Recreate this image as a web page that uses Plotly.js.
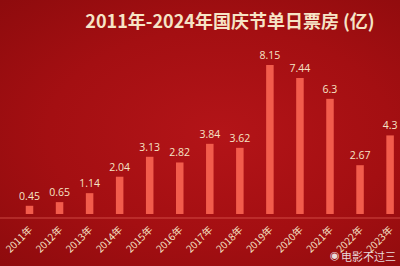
<!DOCTYPE html>
<html><head><meta charset="utf-8">
<script src="https://cdn.plot.ly/plotly-3.0.1.min.js"></script>
<style>
html,body{margin:0;padding:0;}
#wrap{width:400px;height:266px;background:radial-gradient(ellipse at 55% 50%, #b31418 0%, #a40f12 55%, #8e0b0d 100%);}
#chart{width:400px;height:266px;}
</style></head>
<body><div id="wrap"><div id="chart"></div></div>
<script>
const years = ["2011年","2012年","2013年","2014年","2015年","2016年","2017年","2018年","2019年","2020年","2021年","2022年","2023年","2024年"];
const boxOffice = [0.45, 0.65, 1.14, 2.04, 3.13, 2.82, 3.84, 3.62, 8.15, 7.44, 6.3, 2.67, 4.3, 4.5];
const labels = ["0.45","0.65","1.14","2.04","3.13","2.82","3.84","3.62","8.15","7.44","6.3","2.67","4.3","4.5"];
const cream = "#f6e4c6";
const data = [{
  type: "bar",
  x: years.map((_, i) => i),
  y: boxOffice,
  text: labels,
  textposition: "outside",
  constraintext: "none",
  textfont: {family: "Open Sans, Noto Sans, sans-serif", size: 10.5, color: cream},
  cliponaxis: false,
  width: 0.25,
  marker: {color: "#f25c4c", line: {width: 0}},
  hoverinfo: "none"
}];
const layout = {
  width: 400, height: 266,
  paper_bgcolor: "rgba(0,0,0,0)", plot_bgcolor: "rgba(0,0,0,0)",
  margin: {l: 0, r: 0, t: 40, b: 52},
  showlegend: false,
  title: {text: "<b>2011年-2024年国庆节单日票房 (亿)</b>", x: 0.575, xanchor: "center", y: 0.92, yanchor: "middle",
    font: {family: "Noto Sans CJK SC, sans-serif", size: 18, color: cream}},
  xaxis: {range: [-0.982, 12.33], tickmode: "array", tickvals: years.map((_, i) => i), ticktext: years,
    tickangle: -45, tickfont: {family: "Noto Sans CJK SC, sans-serif", size: 10, color: cream},
    ticks: "outside", ticklen: 5, tickcolor: "rgba(0,0,0,0)",
    showgrid: false, zeroline: false, showline: false, fixedrange: true},
  yaxis: {range: [0, 9.52], visible: false, showgrid: false, zeroline: false},
  shapes: [{type: "line", xref: "paper", yref: "paper", x0: 0, x1: 1, y0: -0.023, y1: -0.023,
    line: {color: "rgba(240,110,100,0.6)", width: 1}}],
  annotations: [{text: "电影不过三", xref: "paper", yref: "paper", x: 0.995, y: -0.24, xanchor: "right", yanchor: "middle",
    showarrow: false, font: {family: "Noto Sans CJK SC, sans-serif", size: 11, color: "#eadada"}},
    {text: "◉", xref: "paper", yref: "paper", x: 0.855, y: -0.24, xanchor: "right", yanchor: "middle",
    showarrow: false, font: {family: "DejaVu Sans, sans-serif", size: 11, color: "#eadada"}}]
};
Plotly.newPlot("chart", data, layout, {displayModeBar: false, staticPlot: true});
</script></body></html>
